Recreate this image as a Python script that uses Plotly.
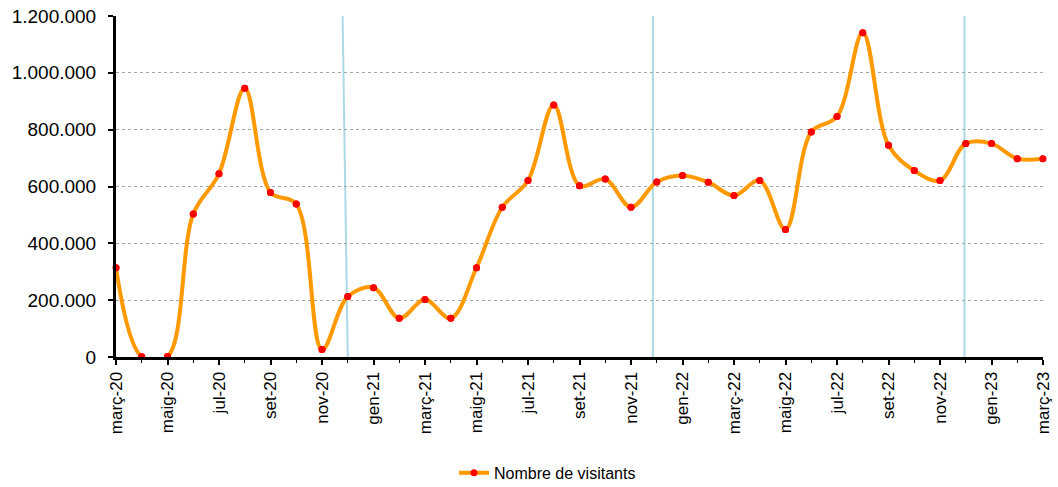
import plotly.graph_objects as go

months = ["març-20","abr-20","maig-20","juny-20","jul-20","ag-20","set-20","oct-20","nov-20","des-20",
          "gen-21","febr-21","març-21","abr-21","maig-21","juny-21","jul-21","ag-21","set-21","oct-21","nov-21","des-21",
          "gen-22","febr-22","març-22","abr-22","maig-22","juny-22","jul-22","ag-22","set-22","oct-22","nov-22","des-22",
          "gen-23","febr-23","març-23"]
visitants = [314000, 1000, 2000, 503000, 645000, 946000, 579000, 538000, 26000, 213000,
             244000, 136000, 202000, 136000, 314000, 527000, 621000, 887000, 603000, 626000, 527000, 616000,
             639000, 615000, 568000, 621000, 449000, 792000, 846000, 1141000, 745000, 656000, 621000, 751000,
             751000, 698000, 698000]
tick_labels = months[::2]
yticks = [0, 200000, 400000, 600000, 800000, 1000000, 1200000]
# vertical separator lines (position in month index: top, bottom)
separators = [(8.8, 9.0), (20.85, 20.85), (32.95, 32.95)]

x = list(range(len(months)))

fig = go.Figure()
fig.add_trace(go.Scatter(
    x=x, y=visitants, mode="lines+markers", name="Nombre de visitants",
    line=dict(color="#FF9900", width=4, shape="spline", smoothing=1.0),
    marker=dict(color="#FF0000", size=7),
    legendgroup="v",
))
fig.add_trace(go.Scatter(
    x=x, y=visitants, mode="markers", showlegend=False, cliponaxis=False,
    marker=dict(color="#FF0000", size=7), legendgroup="v", hoverinfo="skip",
))

for xt, xb in separators:
    fig.add_shape(type="line", xref="x", yref="y", x0=xt, x1=xb, y0=1200000, y1=0,
                  line=dict(color="#ADD8E6", width=2), layer="below")

fig.update_layout(
    width=1058, height=487,
    margin=dict(l=116, r=15, t=16, b=130),
    paper_bgcolor="white", plot_bgcolor="white",
    separators=",.",
    font=dict(family="Liberation Sans, Arial, sans-serif", color="black"),
    showlegend=True,
    legend=dict(orientation="h", xref="paper", yref="container",
                x=0.4655, xanchor="center", y=0.029, yanchor="middle",
                font=dict(size=16)),
)
fig.update_xaxes(
    range=[0, 36], tickmode="array", tickvals=x[::2], ticktext=tick_labels,
    tickangle=-90, tickfont=dict(size=17), automargin=False,
    showline=True, linecolor="black", linewidth=3,
    ticks="outside", ticklen=5, tickwidth=2, tickcolor="black",
    ticklabeloverflow="allow",
    minor=dict(dtick=1, ticks="outside", ticklen=3, tickwidth=1, tickcolor="black"),
    showgrid=False, zeroline=False,
)
fig.update_yaxes(
    range=[0, 1200000], tickvals=yticks, tickformat=",d",
    tickfont=dict(size=19), automargin=False,
    showline=True, linecolor="black", linewidth=3,
    ticks="outside", ticklen=5, tickwidth=2, tickcolor="black",
    ticklabelstandoff=8, ticklabeloverflow="allow",
    showgrid=True, gridcolor="#A6A6A6", griddash="dot", gridwidth=1,
    zeroline=False,
)

# remove the default page margin so the figure sits at the window's corner
fig.write_html("out.html", config={"displayModeBar": False},
               post_script="document.body.style.margin='0';")
